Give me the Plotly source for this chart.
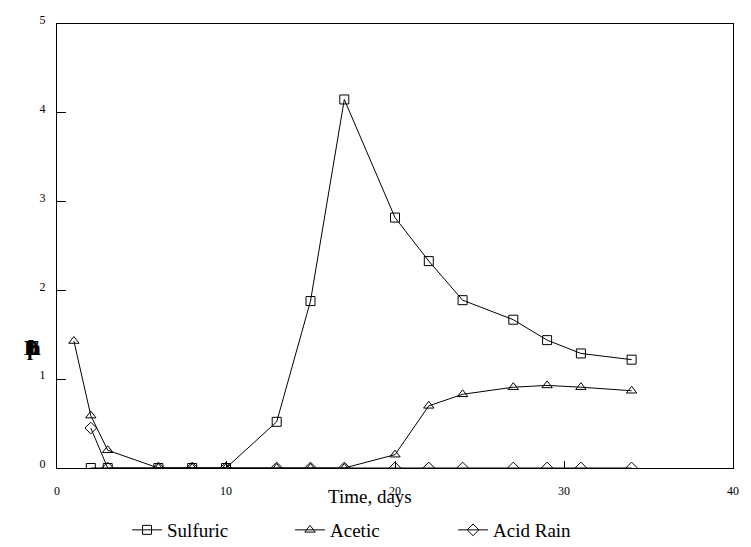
import plotly.graph_objects as go

# ---- data ----
sulfuric_x = [2, 3, 6, 8, 10, 13, 15, 17, 20, 22, 24, 27, 29, 31, 34]
sulfuric_y = [0, 0, 0, 0, 0, 0.52, 1.88, 4.15, 2.82, 2.33, 1.89, 1.67, 1.44, 1.29, 1.22]

acetic_x = [1, 2, 3, 6, 8, 10, 13, 15, 17, 20, 22, 24, 27, 29, 31, 34]
acetic_y = [1.43, 0.59, 0.20, 0, 0, 0, 0, 0, 0, 0.15, 0.70, 0.83, 0.91, 0.93, 0.91, 0.87]

acidrain_x = [2, 3, 6, 8, 10, 13, 15, 17, 20, 22, 24, 27, 29, 31, 34]
acidrain_y = [0.45, 0, 0, 0, 0, 0, 0, 0, 0, 0, 0, 0, 0, 0, 0]

series_names = ["Sulfuric", "Acetic", "Acid Rain"]
x_ticks = [0, 10, 20, 30, 40]
y_ticks = [0, 1, 2, 3, 4, 5]
x_title = "Time, days"

FONT = "Liberation Serif"

fig = go.Figure()
for name, xs, ys, sym in [
    (series_names[0], sulfuric_x, sulfuric_y, "square-open"),
    (series_names[1], acetic_x, acetic_y, "triangle-up-open"),
    (series_names[2], acidrain_x, acidrain_y, "diamond-open"),
]:
    fig.add_trace(go.Scatter(
        x=xs, y=ys, name=name, mode="lines+markers",
        line=dict(color="black", width=1),
        marker=dict(symbol=sym, size=9, color="black", line=dict(color="black", width=1)),
    ))

fig.update_layout(
    width=751, height=547,
    margin=dict(l=57, r=18, t=24, b=79, autoexpand=False),
    paper_bgcolor="white", plot_bgcolor="white",
    font=dict(family=FONT, color="black"),
    showlegend=True,
    legend=dict(
        orientation="h", x=0.1036, xanchor="left",
        y=(547 - 530) / 547, yref="container", yanchor="middle",
        font=dict(family=FONT, size=19, color="black"),
        entrywidth=118, entrywidthmode="pixels",
        itemwidth=30, bgcolor="rgba(0,0,0,0)",
    ),
    xaxis=dict(
        range=[0, 40], tickvals=x_ticks, ticktext=[str(v) for v in x_ticks],
        showgrid=False, zeroline=False,
        showline=True, linecolor="black", linewidth=1, mirror=True,
        ticks="inside", ticklen=7, tickcolor="black",
        tickfont=dict(family=FONT, size=12, color="black"),
        ticklabelstandoff=12,
    ),
    yaxis=dict(
        range=[0, 5], tickvals=y_ticks, ticktext=[str(v) for v in y_ticks],
        showgrid=False, zeroline=False,
        showline=True, linecolor="black", linewidth=1, mirror=True,
        ticks="inside", ticklen=9, tickcolor="black",
        tickfont=dict(family=FONT, size=12, color="black"),
        ticklabelstandoff=8, ticklabelshift=-4,
    ),
)

# x-axis title as annotation (off-center in original)
fig.add_annotation(
    x=18.5, xref="x", y=-0.065, yref="paper", text=x_title, showarrow=False,
    font=dict(family=FONT, size=19, color="black"), xanchor="center", yanchor="middle",
)

# garbled y-axis label: overlapping glyphs
for g, dx in [("E", 0), ("h", 2), ("D", -1), ("p", 0), ("b", 1)]:
    fig.add_annotation(
        x=-0.036 + dx / 676, xref="paper", y=(468 - 348) / 444, yref="paper",
        text="<b>" + g + "</b>", showarrow=False,
        font=dict(family=FONT, size=21, color="black"),
        xanchor="center", yanchor="middle",
    )

fig.write_html("out.html")
